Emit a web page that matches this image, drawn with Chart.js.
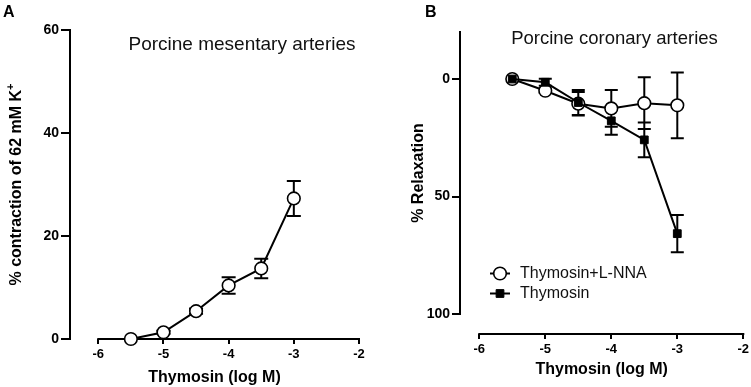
<!DOCTYPE html>
<html>
<head>
<meta charset="utf-8">
<script src="https://cdn.jsdelivr.net/npm/chart.js@4.4.0/dist/chart.umd.min.js"></script>
<style>
  html, body { margin: 0; padding: 0; background: #fff; overflow: hidden; width: 751px; height: 387px; }
  canvas { position: absolute; top: 0; }
  #chartA { left: 0; }
  #chartB { left: 380px; }
</style>
</head>
<body>
<canvas id="chartA" width="380" height="387"></canvas>
<canvas id="chartB" width="380" height="387"></canvas>
<script>
// shared x values (log M)
const doseLog = [-5.5, -5, -4.5, -4, -3.5, -3];
const xTickVals = [-6, -5, -4, -3, -2];
const xTitle = 'Thymosin (log M)';

// panel A - mesenteric contraction
const mesContraction = [0, 1.3, 5.4, 10.4, 13.7, 27.3];
const mesSem = [0, 0.3, 0.5, 1.6, 1.9, 3.4];
const yTicksA = [0, 20, 40, 60];

// panel B - coronary relaxation
const seriesNamesB = ['Thymosin+L-NNA', 'Thymosin'];
const relaxLnna = [0, 5.0, 10.5, 12.5, 10.3, 11.2];
const semLnna = [0, 1, 5.0, 7.8, 11, 14];
const relaxThym = [0, 1.4, 10, 17.8, 25.9, 65.8];
const semThym = [0, 1.5, 5.3, 5.9, 7.4, 7.9];
const yTicksB = [0, 50, 100];

const FONT = "'Liberation Sans', Arial, Helvetica, sans-serif";
const toPts = ys => doseLog.map((x, i) => ({ x, y: ys[i] }));

// prism-style extras: detached axis lines, error bars, titles, legend
const prism = {
  id: 'prism',
  beforeDatasetsDraw(chart, args, o) {
    const { ctx, chartArea } = chart;
    const x = chart.scales.x, y = chart.scales.y;
    ctx.save();
    ctx.strokeStyle = '#000';
    ctx.lineWidth = 2;
    ctx.lineCap = 'square';
    ctx.beginPath();
    ctx.moveTo(x.getPixelForValue(xTickVals[0]), chartArea.bottom);
    ctx.lineTo(x.getPixelForValue(xTickVals[xTickVals.length - 1]), chartArea.bottom);
    ctx.moveTo(chartArea.left, y.getPixelForValue(o.yLine[0]));
    ctx.lineTo(chartArea.left, y.getPixelForValue(o.yLine[1]));
    ctx.stroke();

    ctx.lineCap = 'butt';
    ctx.beginPath();
    chart.data.datasets.forEach((ds, i) => {
      ds.data.forEach((p, j) => {
        const e = o.errors[i][j];
        if (!e) return;
        const px = x.getPixelForValue(p.x);
        const t = y.getPixelForValue(p.y - e), b = y.getPixelForValue(p.y + e);
        ctx.moveTo(px, t); ctx.lineTo(px, b);
        ctx.moveTo(px - o.cap, t); ctx.lineTo(px + o.cap, t);
        ctx.moveTo(px - o.cap, b); ctx.lineTo(px + o.cap, b);
      });
    });
    ctx.stroke();
    ctx.restore();
  },
  afterDraw(chart, args, o) {
    const { ctx } = chart;
    const y = chart.scales.y;
    ctx.save();
    ctx.fillStyle = '#000';
    ctx.textBaseline = 'middle';

    ctx.font = 'bold 16px ' + FONT;
    ctx.textAlign = 'left';
    ctx.fillText(o.panel, o.panelX, 13);

    ctx.font = o.titleSize + 'px ' + FONT;
    ctx.fillStyle = '#111';
    ctx.textAlign = 'center';
    ctx.fillText(o.title, o.titleX, o.titleY);

    // rotated y title, centred on the drawn axis line
    const cy = (y.getPixelForValue(o.yLine[0]) + y.getPixelForValue(o.yLine[1])) / 2;
    ctx.translate(o.yTitleX, cy);
    ctx.rotate(-Math.PI / 2);
    ctx.fillStyle = '#000';
    ctx.font = 'bold 16px ' + FONT;
    const w1 = ctx.measureText(o.yTitle).width;
    let w2 = 0;
    if (o.yTitleSup) {
      ctx.font = 'bold 11px ' + FONT;
      w2 = ctx.measureText(o.yTitleSup).width;
    }
    ctx.textAlign = 'left';
    ctx.font = 'bold 16px ' + FONT;
    ctx.fillText(o.yTitle, -(w1 + w2) / 2, 0);
    if (o.yTitleSup) {
      ctx.font = 'bold 11px ' + FONT;
      ctx.fillText(o.yTitleSup, -(w1 + w2) / 2 + w1, -6);
    }
    ctx.setTransform(1, 0, 0, 1, 0, 0);

    if (o.legend) {
      const L = o.legend;
      chart.data.datasets.forEach((ds, i) => {
        const ly = L.y + i * L.gap;
        ctx.strokeStyle = '#000';
        ctx.lineWidth = 2;
        ctx.beginPath();
        ctx.moveTo(L.x1, ly); ctx.lineTo(L.x2, ly);
        ctx.stroke();
        ctx.fillStyle = ds.pointBackgroundColor;
        ctx.strokeStyle = ds.pointBorderColor;
        ctx.lineWidth = ds.pointBorderWidth;
        Chart.helpers.drawPoint(ctx, { pointStyle: ds.pointStyle, radius: ds.pointRadius, borderWidth: ds.pointBorderWidth, rotation: 0 }, (L.x1 + L.x2) / 2, ly);
        ctx.fillStyle = '#111';
        ctx.font = '16px ' + FONT;
        ctx.textAlign = 'left';
        ctx.fillText(ds.label, L.textX, ly);
      });
    }
    ctx.restore();
  }
};

function axisX(min, height, titlePad) {
  return {
    type: 'linear', min: min, max: -2,
    afterBuildTicks: s => { s.ticks = xTickVals.map(v => ({ value: v })); },
    afterFit: s => { s.height = height; },
    grid: { drawOnChartArea: false, tickLength: 5, color: '#000', lineWidth: 2 },
    border: { display: false },
    ticks: { color: '#000', font: { family: FONT, size: 13, weight: 'bold' }, padding: 3, maxRotation: 0, autoSkip: false },
    title: { display: true, text: xTitle, color: '#000', font: { family: FONT, size: 16, weight: 'bold' }, padding: { top: 0, bottom: titlePad } }
  };
}

function axisY(min, max, ticks, width, reverse, tickLen) {
  return {
    type: 'linear', min: min, max: max, reverse: reverse,
    afterBuildTicks: s => { s.ticks = ticks.map(v => ({ value: v })); },
    afterFit: s => { s.width = width; },
    grid: { drawOnChartArea: false, tickLength: tickLen, color: '#000', lineWidth: 2 },
    border: { display: false },
    ticks: { color: '#000', font: { family: FONT, size: 14, weight: 'bold' }, padding: 2 }
  };
}

const openCircle = {
  borderColor: '#000', borderWidth: 2,
  pointStyle: 'circle', pointRadius: 6.3, pointBackgroundColor: '#fff',
  pointBorderColor: '#000', pointBorderWidth: 1.6, tension: 0, clip: false
};

new Chart(document.getElementById('chartA'), {
  type: 'line',
  data: {
    datasets: [Object.assign({ label: 'Thymosin', data: toPts(mesContraction) }, openCircle)]
  },
  options: {
    responsive: false, animation: false,
    layout: { padding: { top: 30, right: 21, left: 0, bottom: 0 } },
    plugins: {
      legend: { display: false }, tooltip: { enabled: false },
      prism: {
        panel: 'A', panelX: 3,
        title: 'Porcine mesentary arteries', titleX: 242, titleY: 45, titleSize: 19,
        yTitle: '% contraction of 62 mM K', yTitleSup: '+', yTitleX: 17,
        yLine: [0, 60], errors: [mesSem], cap: 7
      }
    },
    scales: { x: axisX(-6.434, 48, 0), y: axisY(0, 60, yTicksA, 70, false, 9) }
  },
  plugins: [prism]
});

new Chart(document.getElementById('chartB'), {
  type: 'line',
  data: {
    datasets: [
      Object.assign({ label: seriesNamesB[0], data: toPts(relaxLnna), order: 2 }, openCircle),
      {
        label: seriesNamesB[1], data: toPts(relaxThym), order: 1,
        borderColor: '#000', borderWidth: 2,
        pointStyle: 'rect', pointRadius: 5.5, pointBackgroundColor: '#000',
        pointBorderColor: '#000', pointBorderWidth: 1, tension: 0, clip: false
      }
    ]
  },
  options: {
    responsive: false, animation: false,
    layout: { padding: { top: 32, right: 16.7, left: 0, bottom: 0 } },
    plugins: {
      legend: { display: false }, tooltip: { enabled: false },
      prism: {
        panel: 'B', panelX: 45,
        title: 'Porcine coronary arteries', titleX: 234.5, titleY: 38.5, titleSize: 18.5,
        yTitle: '% Relaxation', yTitleX: 38.5,
        yLine: [-20, 100], errors: [semLnna, semThym], cap: 6.5,
        legend: { x1: 110, x2: 130, textX: 140, y: 273.5, gap: 20 }
      }
    },
    scales: { x: axisX(-6.292, 53, 8), y: axisY(-20, 108.5, yTicksB, 80, true, 8) }
  },
  plugins: [prism]
});
</script>
</body>
</html>
